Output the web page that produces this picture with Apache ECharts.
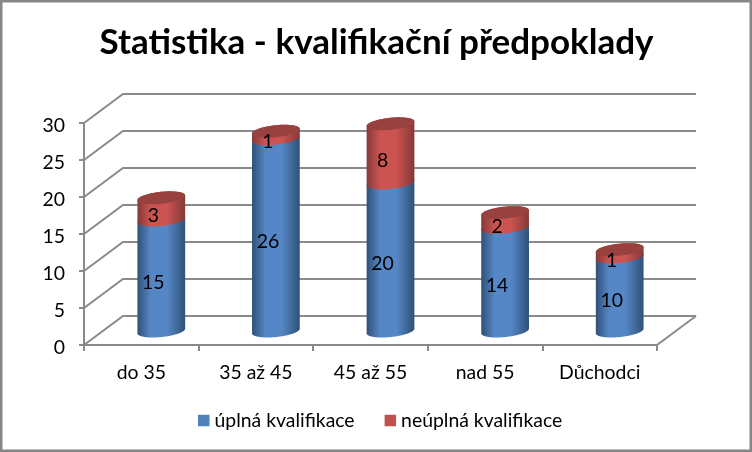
<!DOCTYPE html>
<html><head><meta charset="utf-8">
<style>html,body{margin:0;padding:0;background:#fff}#c{width:752px;height:452px}</style>
<script src="https://cdn.jsdelivr.net/npm/echarts@6/dist/echarts.min.js"></script>
</head><body><div id="c"></div>
<script>
const categories = ['do 35','35 až 45','45 až 55','nad 55','Důchodci'];
const fullQual = [15,26,20,14,10];
const partQual = [3,1,8,2,1];
const yTicks = [0,5,10,15,20,25,30];
const titleText = 'Statistika - kvalifikační předpoklady';
const seriesNames = ['úplná kvalifikace','neúplná kvalifikace'];

const FONT='Lato';
const DX=39, DY=-29, RX=24, RY=6, TILT=-6*Math.PI/180;
const BAR_DX=20, BAR_DY=-14;
const GRAY='#8A8A8A';

function ell(cx,cy,a0,a1,n){
  const pts=[];
  for(let i=0;i<=n;i++){
    const t=a0+(a1-a0)*i/n;
    const x=RX*Math.cos(t), y=RY*Math.sin(t);
    pts.push([cx+x*Math.cos(TILT)-y*Math.sin(TILT), cy+x*Math.sin(TILT)+y*Math.cos(TILT)]);
  }
  return pts;
}
function grad(dark,mid){
  return {type:'linear',x:0,y:0,x2:1,y2:0,colorStops:[
    {offset:0,color:dark},{offset:0.28,color:mid},{offset:0.62,color:mid},{offset:1,color:dark}]};
}
function cylinder(dark,mid,cap){
  return function(params,api){
    const i=api.value(0), lo=api.value(1), hi=api.value(2);
    const p0=api.coord([i,lo]), p1=api.coord([i,hi]);
    const cx=p0[0]+BAR_DX, y0=p0[1]+BAR_DY, y1=p1[1]+BAR_DY;
    const pts=ell(cx,y0,0,Math.PI,40).concat(ell(cx,y1,Math.PI,2*Math.PI,40));
    const kids=[{type:'polygon',shape:{points:pts},style:{fill:grad(dark,mid)}}];
    if(cap){kids.push({type:'polygon',shape:{points:ell(cx,y1,0,2*Math.PI,60)},style:{fill:cap}});}
    kids.push({type:'text',style:{text:String(hi-lo),x:cx-8,y:(y0+y1)/2+7,align:'center',verticalAlign:'middle',
      font:'19.4px '+FONT,fill:'#000'}});
    return {type:'group',children:kids};
  };
}
function stacked(lo,v){return v.map((d,i)=>[i,lo[i],lo[i]+d]);}
const zero=fullQual.map(()=>0);

const chart=echarts.init(document.getElementById('c'),null,{renderer:'canvas'});
chart.setOption({
  animation:false,
  backgroundColor:'#fff',
  title:{text:titleText,left:371.5,top:20,textAlign:'center',
    textStyle:{fontFamily:FONT,fontSize:35,fontWeight:'bold',color:'#000'}},
  legend:{left:193,top:406,itemWidth:11.5,itemHeight:11.5,itemGap:30,icon:'rect',
    data:seriesNames,textStyle:{fontFamily:FONT,fontSize:19.4,color:'#000'}},
  grid:{left:84,right:95,top:123,height:222,containLabel:false},
  xAxis:{type:'category',data:categories,
    axisLine:{lineStyle:{color:GRAY,width:2}},
    axisTick:{show:true,length:6,lineStyle:{color:GRAY,width:2}},
    axisLabel:{fontFamily:FONT,fontSize:19.4,color:'#000',margin:18},
    splitLine:{show:false}},
  yAxis:{type:'value',min:0,max:30,interval:5,
    axisLine:{show:true,lineStyle:{color:GRAY,width:2}},
    axisTick:{show:true,length:5,lineStyle:{color:GRAY,width:2}},
    axisLabel:{fontFamily:FONT,fontSize:19.4,color:'#000',margin:19,verticalAlign:'top',lineHeight:5},
    splitLine:{show:false}},
  graphic:[{type:'rect',silent:true,z:100,shape:{x:1,y:1,width:750,height:450},
    style:{fill:'none',stroke:'#868686',lineWidth:3}}],
  series:[
    {type:'custom',coordinateSystem:'cartesian2d',silent:true,z:1,clip:false,
     encode:{x:0,y:1},data:yTicks.map(v=>[0,v]),
     renderItem(params,api){
       const v=api.value(1), y=api.coord([0,v])[1], cs=params.coordSys;
       const x0=cs.x, x1=cs.x+cs.width;
       const kids=[{type:'polyline',shape:{points:[[x0,y],[x0+DX,y+DY],[x1+DX,y+DY]]},
         style:{fill:'none',stroke:GRAY,lineWidth:2}}];
       if(v===0){kids.push({type:'line',shape:{x1:x1,y1:y,x2:x1+DX,y2:y+DY},style:{stroke:GRAY,lineWidth:2}});}
       return {type:'group',children:kids};
     }},
    {name:seriesNames[0],type:'custom',coordinateSystem:'cartesian2d',silent:true,z:3,clip:false,
     itemStyle:{color:'#4F81BD'},encode:{x:0,y:2},data:stacked(zero,fullQual),
     renderItem:cylinder('#2F5178','#5587C6',null)},
    {name:seriesNames[1],type:'custom',coordinateSystem:'cartesian2d',silent:true,z:4,clip:false,
     itemStyle:{color:'#C0504D'},encode:{x:0,y:2},data:stacked(fullQual,partQual),
     renderItem:cylinder('#843937','#CB5451','#984240')}
  ]
});
</script></body></html>
